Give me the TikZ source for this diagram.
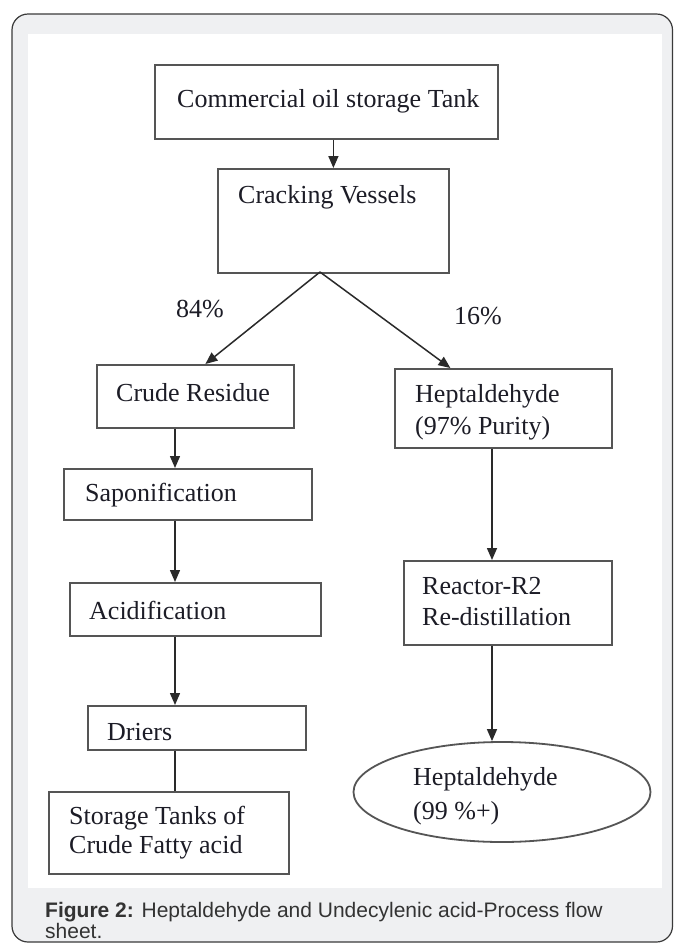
\documentclass[tikz,border=0pt]{standalone}
\usepackage{fontspec}
\setmainfont{Liberation Serif}
\newfontfamily\capfont{Liberation Sans}
\usetikzlibrary{arrows.meta,shapes.geometric}
\definecolor{framefill}{HTML}{EFF0F2}
\definecolor{framedraw}{HTML}{3A3A3A}
\definecolor{boxdraw}{HTML}{555555}
\definecolor{txt}{HTML}{1C1C26}
\definecolor{captxt}{HTML}{333333}
\definecolor{linec}{HTML}{2A2A2A}
\tikzset{
  box/.style={draw=boxdraw, line width=1.8pt, fill=white, inner sep=0pt, anchor=north west},
  oval/.style={ellipse, draw=boxdraw, line width=1.8pt, fill=white, inner sep=0pt},
  lbl/.style={text=txt, font=\fontsize{26}{32}\selectfont, inner sep=0pt, anchor=west, align=left},
  arr/.style={draw=linec, line width=1.5pt, -{Triangle[length=12pt,width=10pt]}},
  plain/.style={draw=linec, line width=1.5pt},
  captionstyle/.style={text=captxt, font=\capfont\fontsize{21}{21}\selectfont, inner sep=0pt, anchor=north west, align=left}
}
\begin{document}
\begin{tikzpicture}[x=1pt,y=-1pt]
\useasboundingbox (0,0) rectangle (673,943);
% frame and panel
\draw[framedraw, fill=framefill, line width=1.2pt, rounded corners=16pt] (12,14) rectangle (672.5,942);
\fill[white] (28,34) rectangle (662,888);

% boxes
\node[box, minimum width=343pt, minimum height=74pt] (b1) at (154,64) {};
\node[box, minimum width=231pt, minimum height=104pt] (b2) at (217,168) {};
\node[box, minimum width=197pt, minimum height=63pt] (b3) at (96,364) {};
\node[box, minimum width=217pt, minimum height=79pt] (b4) at (394,368) {};
\node[box, minimum width=248pt, minimum height=51pt] (b5) at (63,468) {};
\node[box, minimum width=251pt, minimum height=53pt] (b6) at (69,582) {};
\node[box, minimum width=218pt, minimum height=44pt] (b7) at (87,705) {};
\node[box, minimum width=240pt, minimum height=82pt] (b8) at (48,791) {};
\node[box, minimum width=208pt, minimum height=84pt] (b9) at (403,560) {};
\node[oval, minimum width=297pt, minimum height=100pt] (e1) at (502,792) {};

% texts
\node[lbl] (t1) at (177,101) {Commercial oil storage Tank};
\node[lbl] (t2) at (238,197) {Cracking Vessels};
\node[lbl] (t3) at (116,393) {Crude Residue};
\node[lbl] (t4) at (415,412) {Heptaldehyde\\(97\% Purity)};
\node[lbl] (t5) at (85,495) {Saponification};
\node[lbl] (t6) at (89,610) {Acidification};
\node[lbl] (t7) at (107,732) {Driers};
\node[lbl, font=\fontsize{26}{29}\selectfont] (t8) at (69,833) {Storage Tanks of\\Crude Fatty acid};
\node[lbl, font=\fontsize{26}{31}\selectfont] (t9) at (422,602) {Reactor-R2\\Re-distillation};
\node[lbl, font=\fontsize{26}{34}\selectfont] (t10) at (413,796) {Heptaldehyde\\(99 \%+)};
\node[lbl] (p84) at (176,309) {84\%};
\node[lbl] (p16) at (454,316) {16\%};

% connectors
\coordinate (split) at (320,272);
\coordinate (lc) at (175,0);
\coordinate (rc) at (492,0);
\draw[arr] (b1.south -| b2.north) -- (b2.north);
\draw[arr] (split) -- ([xshift=10pt]b3.north);
\draw[arr] (split) -- ([xshift=-53pt]b4.north);
\draw[arr] (b3.south -| lc) -- (b5.north -| lc);
\draw[arr] (b5.south -| lc) -- (b6.north -| lc);
\draw[arr] (b6.south -| lc) -- (b7.north -| lc);
\draw[plain] (b7.south -| lc) -- (b8.north -| lc);
\draw[arr] (b4.south -| rc) -- (b9.north -| rc);
\draw[arr] (b9.south -| rc) -- (e1.north -| rc);

% caption
\node[captionstyle] (caption) at (45,902) {\textbf{Figure 2:} Heptaldehyde and Undecylenic acid-Process flow\\sheet.};
\end{tikzpicture}
\end{document}
